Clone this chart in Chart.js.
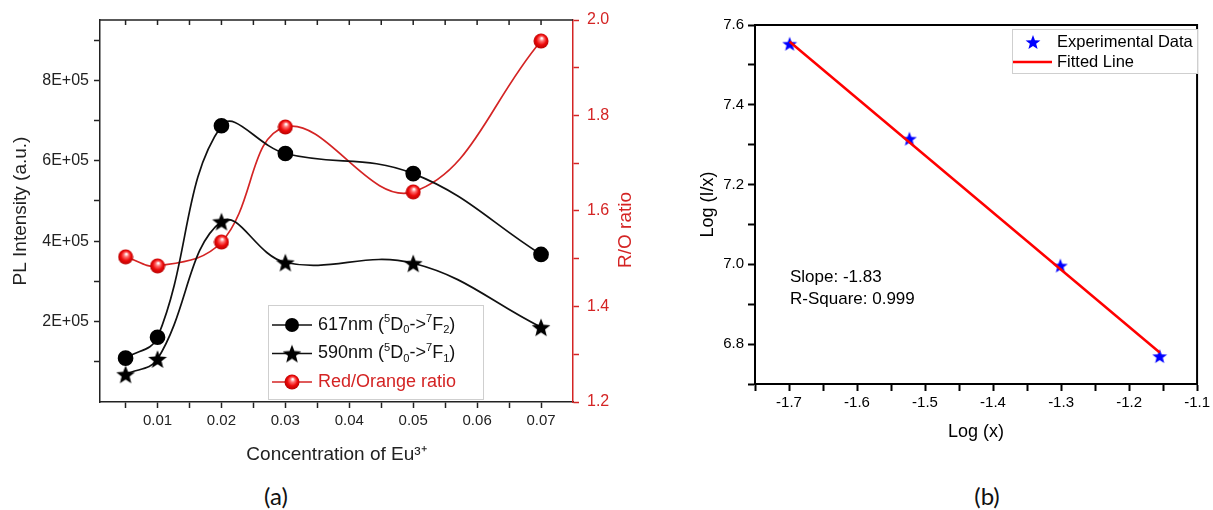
<!DOCTYPE html>
<html>
<head>
<meta charset="utf-8">
<script src="https://cdn.jsdelivr.net/npm/chart.js@4/dist/chart.umd.min.js"></script>
<style>
  body { margin: 0; background: #fff; width: 1213px; height: 510px; position: relative; overflow: hidden; }
  #ca { position: absolute; left: 0; top: 0; }
  #cb { position: absolute; left: 650px; top: 0; }
  .cap { position: absolute; top: 482px; width: 60px; text-align: center; font: 24px Lato, "Open Sans", sans-serif; line-height: 28px; color: #111; }
</style>
</head>
<body>
<canvas id="ca" width="640" height="470"></canvas>
<canvas id="cb" width="563" height="470"></canvas>
<div class="cap" style="left:246px">(a)</div>
<div class="cap" style="left:957px">(b)</div>
<script>
// Panel (a): emission intensity vs Eu3+ concentration
const conc = [0.005, 0.01, 0.02, 0.03, 0.05, 0.07];
const pl617 = [1.09e5, 1.61e5, 6.87e5, 6.18e5, 5.68e5, 3.67e5];
const pl590 = [0.69e5, 1.07e5, 4.49e5, 3.47e5, 3.45e5, 1.86e5];
const roRatio = [1.504, 1.485, 1.535, 1.776, 1.640, 1.956];

// Panel (b): log-log fit
const logX = [-1.699, -1.523, -1.301, -1.155];
const logIx = [7.553, 7.315, 6.997, 6.770];
const fitX = [-1.699, -1.155];
const fitY = [7.558, 6.779];

const RED = '#d42424';
const FONT = '"Liberation Sans", Arial, sans-serif';
Chart.defaults.font.family = FONT;

// marker images
function makeMarker(size, draw) {
  const c = document.createElement('canvas');
  c.width = c.height = size;
  draw(c.getContext('2d'), size);
  return c;
}
function starPath(ctx, cx, cy, R, r) {
  ctx.beginPath();
  for (let i = 0; i < 10; i++) {
    const a = -Math.PI / 2 + i * Math.PI / 5;
    const rr = i % 2 ? r : R;
    ctx.lineTo(cx + rr * Math.cos(a), cy + rr * Math.sin(a));
  }
  ctx.closePath();
}
const blackStar = makeMarker(20, (c, s) => { starPath(c, s/2, s/2 + 1, 9.8, 4.2); c.fillStyle = '#000'; c.fill(); });
const blueStar = makeMarker(16, (c, s) => { starPath(c, s/2, s/2 + 0.8, 7.8, 3.3); c.fillStyle = '#0000ff'; c.fill(); });
const redBall = makeMarker(16, (c, s) => {
  const g = c.createRadialGradient(s*0.55, s*0.32, 0.5, s/2, s/2, s/2);
  g.addColorStop(0, '#ffffff');
  g.addColorStop(0.25, '#ff7070');
  g.addColorStop(0.6, '#ee0a0a');
  g.addColorStop(1, '#b00000');
  c.beginPath(); c.arc(s/2, s/2, s/2 - 0.5, 0, Math.PI * 2);
  c.fillStyle = g; c.fill();
});

function richText(ctx, x, y, parts, size, color) {
  ctx.fillStyle = color; ctx.textBaseline = 'middle'; ctx.textAlign = 'left';
  for (const [t, m] of parts) {
    const fs = m === 'n' ? size : size * 0.62;
    ctx.font = fs + 'px ' + FONT;
    const dy = m === 'sup' ? -size * 0.32 : m === 'sub' ? size * 0.28 : 0;
    ctx.fillText(t, x, y + dy);
    x += ctx.measureText(t).width;
  }
}

const legendA = [
  { parts: [['617nm (', 'n'], ['5', 'sup'], ['D', 'n'], ['0', 'sub'], ['->', 'n'], ['7', 'sup'], ['F', 'n'], ['2', 'sub'], [')', 'n']], color: '#111', marker: 'circle' },
  { parts: [['590nm (', 'n'], ['5', 'sup'], ['D', 'n'], ['0', 'sub'], ['->', 'n'], ['7', 'sup'], ['F', 'n'], ['1', 'sub'], [')', 'n']], color: '#111', marker: 'star' },
  { parts: [['Red/Orange ratio', 'n']], color: RED, marker: 'ball' }
];

const decorA = {
  id: 'decorA',
  afterDraw(chart) {
    const { ctx, chartArea: a, scales } = chart;
    ctx.save();
    // top frame with inward ticks
    ctx.strokeStyle = '#222'; ctx.lineWidth = 1.5;
    ctx.beginPath();
    ctx.moveTo(a.left, a.top); ctx.lineTo(a.right, a.top);
    scales.x.ticks.forEach(t => {
      const px = scales.x.getPixelForValue(t.value);
      ctx.moveTo(px, a.top); ctx.lineTo(px, a.top + 5);
    });
    ctx.stroke();
    // right axis title, reading bottom to top
    ctx.save();
    ctx.translate(626, 230); ctx.rotate(-Math.PI / 2);
    ctx.fillStyle = RED; ctx.font = '19px ' + FONT;
    ctx.textAlign = 'center'; ctx.textBaseline = 'middle';
    ctx.fillText('R/O ratio', 0, 0);
    ctx.restore();
    // legend box
    ctx.fillStyle = '#fff'; ctx.strokeStyle = '#cfcfcf'; ctx.lineWidth = 1;
    ctx.fillRect(268, 305, 215, 94); ctx.strokeRect(268.5, 305.5, 215, 94);
    legendA.forEach((it, i) => {
      const y = 325 + i * 28.5;
      ctx.strokeStyle = it.color; ctx.lineWidth = 1.6;
      ctx.beginPath(); ctx.moveTo(272, y); ctx.lineTo(312, y); ctx.stroke();
      if (it.marker === 'circle') {
        ctx.fillStyle = '#000'; ctx.beginPath(); ctx.arc(292, y, 7, 0, Math.PI * 2); ctx.fill();
      } else if (it.marker === 'star') {
        ctx.drawImage(blackStar, 292 - 10, y - 10);
      } else {
        ctx.drawImage(redBall, 292 - 8, y - 8);
      }
      richText(ctx, 318, y, it.parts, 18, it.color);
    });
    ctx.restore();
  }
};

new Chart(document.getElementById('ca'), {
  type: 'line',
  data: {
    datasets: [
      { label: '617nm', data: conc.map((x, i) => ({ x, y: pl617[i] })), yAxisID: 'y',
        borderColor: '#111', borderWidth: 1.7, tension: 0.4,
        pointStyle: 'circle', pointRadius: 7, pointBackgroundColor: '#000', pointBorderColor: '#000' },
      { label: '590nm', data: conc.map((x, i) => ({ x, y: pl590[i] })), yAxisID: 'y',
        borderColor: '#111', borderWidth: 1.7, tension: 0.4,
        pointStyle: blackStar, pointRadius: 9 },
      { label: 'Red/Orange ratio', data: conc.map((x, i) => ({ x, y: roRatio[i] })), yAxisID: 'y2',
        borderColor: RED, borderWidth: 1.7, tension: 0.4,
        pointStyle: redBall, pointRadius: 8 }
    ]
  },
  options: {
    responsive: false, animation: false,
    layout: { padding: { top: 20, left: 0, right: 0, bottom: 0 } },
    plugins: { legend: { display: false }, tooltip: { enabled: false } },
    scales: {
      x: {
        type: 'linear', min: 0.001, max: 0.075,
        afterBuildTicks: s => { s.ticks = []; for (let k = 1; k <= 14; k++) s.ticks.push({ value: k * 0.005 }); },
        afterFit: s => { s.height = 68; },
        ticks: { callback: v => (Math.round(v * 1000) % 10 === 0 ? v.toFixed(2) : ''), autoSkip: false, maxRotation: 0,
                 padding: 4, color: '#222', font: { size: 15 } },
        grid: { drawOnChartArea: false, tickLength: 6, tickWidth: 1.5, color: '#222' },
        border: { color: '#222', width: 1.5 },
        title: { display: true, text: 'Concentration of Eu³⁺', color: '#222', font: { size: 19 }, padding: { top: 0, bottom: 4 } }
      },
      y: {
        position: 'left', min: 0, max: 950000,
        afterBuildTicks: s => { s.ticks = []; for (let k = 1; k <= 9; k++) s.ticks.push({ value: k * 1e5 }); },
        afterFit: s => { s.width = 100; },
        ticks: { callback: v => (v % 2e5 === 0 ? (v / 1e5) + 'E+05' : ''), padding: 5, color: '#222', font: { size: 16 } },
        grid: { drawOnChartArea: false, tickLength: 6, tickWidth: 1.5, color: '#222' },
        border: { color: '#222', width: 1.5 },
        title: { display: true, text: 'PL Intensity (a.u.)', color: '#222', font: { size: 19 }, padding: { top: 9, bottom: 0 } }
      },
      y2: {
        position: 'right', min: 1.2, max: 2.0,
        afterBuildTicks: s => { s.ticks = []; for (let k = 12; k <= 20; k++) s.ticks.push({ value: k / 10 }); },
        afterFit: s => { s.width = 67; },
        ticks: { callback: v => (Math.round(v * 10) % 2 === 0 ? v.toFixed(1) : ''), padding: 8, color: RED, font: { size: 16 } },
        grid: { drawOnChartArea: false, tickLength: 6, tickWidth: 1.5, color: RED },
        border: { color: RED, width: 1.5 }
      }
    }
  },
  plugins: [decorA]
});

const decorB = {
  id: 'decorB',
  afterDraw(chart) {
    const { ctx, chartArea: a } = chart;
    ctx.save();
    // frame
    ctx.strokeStyle = '#000'; ctx.lineWidth = 2;
    ctx.beginPath();
    ctx.moveTo(a.left, a.top); ctx.lineTo(a.right, a.top); ctx.lineTo(a.right, a.bottom);
    ctx.stroke();
    // legend
    ctx.fillStyle = '#fff'; ctx.strokeStyle = '#cfcfcf'; ctx.lineWidth = 1;
    ctx.fillRect(362, 29, 185, 44); ctx.strokeRect(362.5, 29.5, 185, 44);
    ctx.drawImage(blueStar, 383 - 8, 42 - 8);
    ctx.strokeStyle = '#ff0000'; ctx.lineWidth = 2.5;
    ctx.beginPath(); ctx.moveTo(363, 62); ctx.lineTo(402, 62); ctx.stroke();
    ctx.fillStyle = '#000'; ctx.font = '16.5px ' + FONT;
    ctx.textAlign = 'left'; ctx.textBaseline = 'middle';
    ctx.fillText('Experimental Data', 407, 42);
    ctx.fillText('Fitted Line', 407, 62);
    // fit annotation
    ctx.font = '17px ' + FONT;
    ctx.fillText('Slope: -1.83', 140, 277);
    ctx.fillText('R-Square: 0.999', 140, 299);
    ctx.restore();
  }
};

new Chart(document.getElementById('cb'), {
  type: 'scatter',
  data: {
    datasets: [
      { label: 'Fitted Line', data: fitX.map((x, i) => ({ x, y: fitY[i] })), showLine: true,
        borderColor: '#ff0000', borderWidth: 2.5, pointRadius: 0 },
      { label: 'Experimental Data', data: logX.map((x, i) => ({ x, y: logIx[i] })),
        pointStyle: blueStar, pointRadius: 8 }
    ]
  },
  options: {
    responsive: false, animation: false,
    layout: { padding: { top: 25, left: 0, right: 12, bottom: 0 } },
    plugins: { legend: { display: false }, tooltip: { enabled: false } },
    scales: {
      x: {
        type: 'linear', min: -1.75, max: -1.1,
        afterBuildTicks: s => { s.ticks = []; for (let k = -175; k <= -110; k += 5) s.ticks.push({ value: k / 100 }); },
        afterFit: s => { s.height = 86; },
        ticks: { callback: v => (Math.round(v * 100) % 10 === 0 ? v.toFixed(1) : ''), autoSkip: false, maxRotation: 0,
                 padding: 3, color: '#000', font: { size: 15 } },
        grid: { drawOnChartArea: false, tickLength: 7, tickWidth: 2, color: '#000' },
        border: { color: '#000', width: 2 },
        title: { display: true, text: 'Log (x)', color: '#000', font: { size: 18 }, padding: { top: 0, bottom: 27 } }
      },
      y: {
        min: 6.7, max: 7.6,
        afterBuildTicks: s => { s.ticks = []; for (let k = 67; k <= 76; k++) s.ticks.push({ value: k / 10 }); },
        afterFit: s => { s.width = 105; },
        ticks: { callback: v => (Math.round(v * 10) % 2 === 0 ? v.toFixed(1) : ''), padding: 4, color: '#000', font: { size: 15 } },
        grid: { drawOnChartArea: false, tickLength: 7, tickWidth: 2, color: '#000' },
        border: { color: '#000', width: 2 },
        title: { display: true, text: 'Log (I/x)', color: '#000', font: { size: 18 }, padding: { top: 47, bottom: 0 } }
      }
    }
  },
  plugins: [decorB]
});
</script>
</body>
</html>
